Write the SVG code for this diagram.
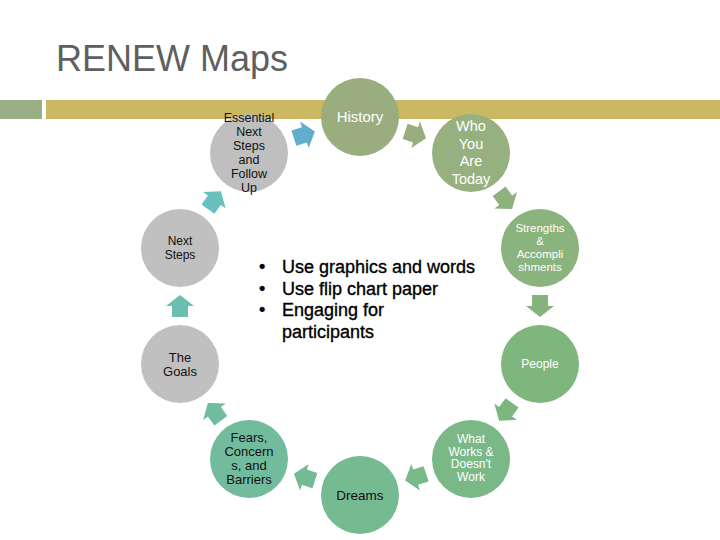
<svg xmlns="http://www.w3.org/2000/svg" width="720" height="540" viewBox="0 0 720 540">
<defs>
<style>
text{font-family:"Liberation Sans",Arial,sans-serif;text-anchor:middle}
.w{fill:#ffffff}
.b{fill:#111111}
.gray{fill:#c0c0c0}
</style>
<polygon id="arr" points="-11,-8 0,-8 0,-14 11,0 0,14 0,8 -11,8"/>
</defs>
<rect width="720" height="540" fill="#ffffff"/>
<text x="56" y="71" style="text-anchor:start" font-size="36" fill="#5f5f5f">RENEW Maps</text>
<rect x="0" y="100" width="42" height="19" fill="#9aaf85"/>
<rect x="46" y="100" width="674" height="19" fill="#ccb862"/>

<g id="connectors">
<use href="#arr" transform="translate(415.6,134.8) rotate(18)" fill="#98ae7e"/>
<use href="#arr" transform="translate(505.6,200.2) rotate(54)" fill="#8fb27d"/>
<use href="#arr" transform="translate(540,306) rotate(90)" fill="#84b47c"/>
<use href="#arr" transform="translate(505.6,411.8) rotate(126)" fill="#7db77f"/>
<use href="#arr" transform="translate(415.6,477.2) rotate(162)" fill="#78b98a"/>
<use href="#arr" transform="translate(304.4,477.2) rotate(198)" fill="#74bb94"/>
<use href="#arr" transform="translate(214.4,411.8) rotate(234)" fill="#6fbd9f"/>
<use href="#arr" transform="translate(180,306) rotate(270)" fill="#6cbfb0"/>
<use href="#arr" transform="translate(214.4,200.2) rotate(306)" fill="#69c0bf"/>
<use href="#arr" transform="translate(304.4,134.8) rotate(342)" fill="#5faecc"/>
</g>

<g id="history">
<circle cx="360" cy="117" r="39" fill="#9aad7f"/>
<text x="360" y="122" font-size="15" class="w">History</text>
</g>
<g id="who">
<circle cx="471" cy="153" r="39" fill="#97b07f"/>
<text font-size="14.5" class="w"><tspan x="471" y="131">Who</tspan><tspan x="471" y="148.5">You</tspan><tspan x="471" y="166">Are</tspan><tspan x="471" y="183.5">Today</tspan></text>
</g>
<g id="strengths">
<circle cx="540" cy="248" r="39" fill="#8bb37d"/>
<text font-size="11.5" class="w"><tspan x="540" y="232">Strengths</tspan><tspan x="540" y="245">&amp;</tspan><tspan x="540" y="258">Accompli</tspan><tspan x="540" y="271">shments</tspan></text>
</g>
<g id="people">
<circle cx="540" cy="364" r="39" fill="#7fb67e"/>
<text x="540" y="368" font-size="12" class="w">People</text>
</g>
<g id="whatworks">
<circle cx="471" cy="459" r="39" fill="#7ab887"/>
<text font-size="12" class="w"><tspan x="471" y="443">What</tspan><tspan x="471" y="455.7">Works &amp;</tspan><tspan x="471" y="468.4">Doesn't</tspan><tspan x="471" y="481.1">Work</tspan></text>
</g>
<g id="dreams">
<circle cx="360" cy="495" r="39" fill="#76ba92"/>
<text x="360" y="500" font-size="13.5" class="b">Dreams</text>
</g>
<g id="fears">
<circle cx="249" cy="459" r="39" fill="#72bc9d"/>
<text font-size="13" class="b"><tspan x="249" y="441.5">Fears,</tspan><tspan x="249" y="455.5">Concern</tspan><tspan x="249" y="469.5">s, and</tspan><tspan x="249" y="483.5">Barriers</tspan></text>
</g>
<g id="goals">
<circle cx="180" cy="364" r="39" class="gray"/>
<text font-size="13" class="b"><tspan x="180" y="361.5">The</tspan><tspan x="180" y="375.5">Goals</tspan></text>
</g>
<g id="nextsteps">
<circle cx="180" cy="248" r="39" class="gray"/>
<text font-size="12" class="b"><tspan x="180" y="244.5">Next</tspan><tspan x="180" y="258.5">Steps</tspan></text>
</g>
<g id="essential">
<circle cx="249" cy="153" r="39" fill="#bfbfbf"/>
<text font-size="12.5" class="b"><tspan x="249" y="121.5">Essential</tspan><tspan x="249" y="135.5">Next</tspan><tspan x="249" y="149.5">Steps</tspan><tspan x="249" y="163.5">and</tspan><tspan x="249" y="177.5">Follow</tspan><tspan x="249" y="191.5">Up</tspan></text>
</g>

<g id="bullets" font-size="18" fill="#000000" stroke="#000000" stroke-width="0.35">
<text x="259" y="273" style="text-anchor:start">•</text>
<text x="259" y="294.5" style="text-anchor:start">•</text>
<text x="259" y="316" style="text-anchor:start">•</text>
<text x="282" y="273" style="text-anchor:start">Use graphics and words</text>
<text x="282" y="294.5" style="text-anchor:start">Use flip chart paper</text>
<text x="282" y="316" style="text-anchor:start">Engaging for</text>
<text x="282" y="337.5" style="text-anchor:start">participants</text>
</g>
</svg>
